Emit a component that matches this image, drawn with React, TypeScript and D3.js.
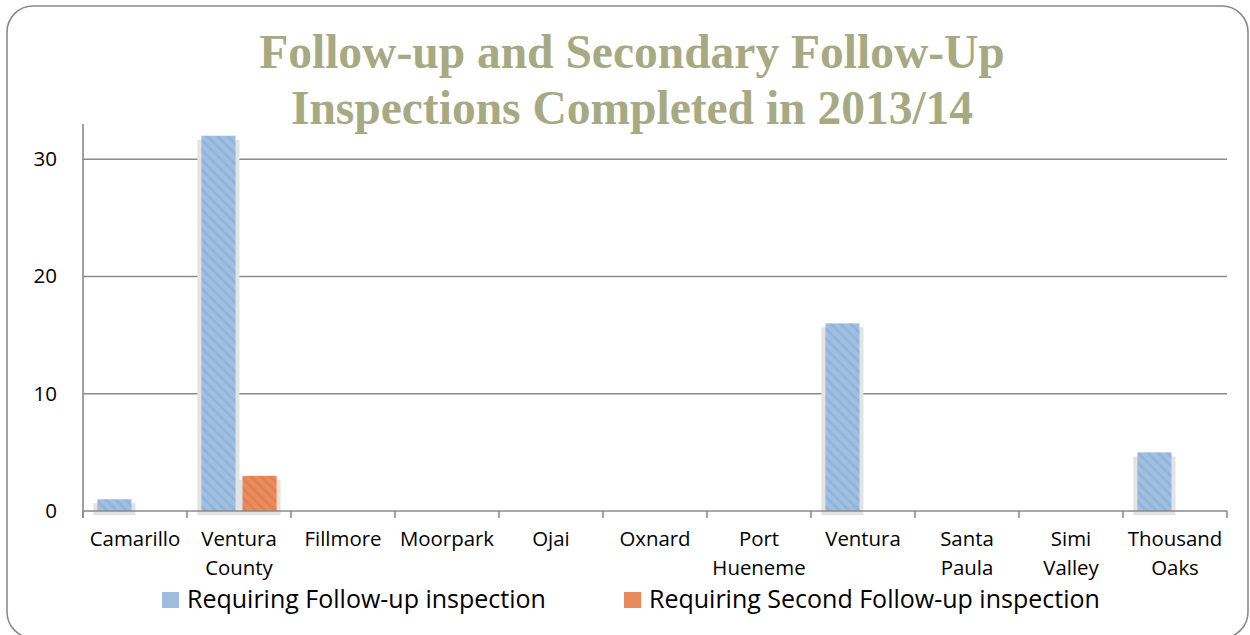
import React from "react";
import * as d3 from "d3";

const categories = [
  ["Camarillo"],
  ["Ventura", "County"],
  ["Fillmore"],
  ["Moorpark"],
  ["Ojai"],
  ["Oxnard"],
  ["Port", "Hueneme"],
  ["Ventura"],
  ["Santa", "Paula"],
  ["Simi", "Valley"],
  ["Thousand", "Oaks"],
];
const followUp = [1, 32, 0, 0, 0, 0, 0, 16, 0, 0, 5];
const secondFollowUp = [0, 3, 0, 0, 0, 0, 0, 0, 0, 0, 0];
const seriesNames = ["Requiring Follow-up inspection", "Requiring Second Follow-up inspection"];
const yTicks = [0, 10, 20, 30];
const titleLines = ["Follow-up and Secondary Follow-Up", "Inspections Completed in 2013/14"];

const W = 1250;
const H = 635;
const left = 83;
const right = 1227;
const y0 = 511;
const yTop = 124;

export default function App() {
  const keys = categories.map((c) => c.join(" "));
  const x = d3.scaleBand<string>().domain(keys).range([left, right]).paddingInner(0).paddingOuter(0);
  const sub = d3
    .scaleBand<string>()
    .domain(["a", "b"])
    .range([0, x.bandwidth()])
    .paddingInner(0.17)
    .paddingOuter(0.35);
  const y = d3.scaleLinear().domain([0, 33]).range([y0, yTop]);
  const series = [
    { key: "a", values: followUp, fill: "url(#hatchBlue)", swatch: "#9dbcdf" },
    { key: "b", values: secondFollowUp, fill: "url(#hatchOrange)", swatch: "#e88a5b" },
  ];
  const font = "'Open Sans', 'Liberation Sans', sans-serif";
  const bw = sub.bandwidth();
  const boundaries = keys.map((k) => x(k) as number).concat([right]);

  return (
    <svg width={W} height={H} style={{ position: "absolute", left: 0, top: 0 }}>
      <defs>
        <pattern id="hatchBlue" patternUnits="userSpaceOnUse" width="7" height="7" patternTransform="rotate(-45)">
          <rect width="7" height="7" fill="#a0bfe1" />
          <rect width="3" height="7" fill="#93b4da" />
        </pattern>
        <pattern id="hatchOrange" patternUnits="userSpaceOnUse" width="7" height="7" patternTransform="rotate(-45)">
          <rect width="7" height="7" fill="#ea8c5d" />
          <rect width="3" height="7" fill="#e08252" />
        </pattern>
      </defs>
      <rect x={7} y={6} width={1241} height={632} rx={26} ry={26} fill="white" stroke="#8a8a8a" strokeWidth={1.6} />

      {titleLines.map((t, i) => (
        <text
          key={t}
          x={632}
          y={68 + i * 56}
          textAnchor="middle"
          fontFamily="'Liberation Serif', 'DejaVu Serif', serif"
          fontWeight="bold"
          fontSize={47.5}
          fill="#a6aa82"
        >
          {t}
        </text>
      ))}

      {/* gridlines */}
      {yTicks
        .filter((t) => t > 0)
        .map((t) => (
          <line key={t} x1={left} x2={right} y1={y(t)} y2={y(t)} stroke="#8a8a8a" strokeWidth={1.5} />
        ))}

      {/* bars with shadows */}
      {series.map((s) =>
        keys.map((k, i) => {
          const v = s.values[i];
          if (!v) return null;
          const bx = (x(k) as number) + (sub(s.key) as number);
          const by = y(v);
          return (
            <g key={s.key + k}>
              <rect x={bx - 4} y={by + 4} width={bw + 8} height={y0 - by} fill="#e3e3e3" />
              <rect x={bx} y={by} width={bw} height={y0 - by} fill={s.fill} />
            </g>
          );
        })
      )}

      {/* axes */}
      <line x1={left} x2={left} y1={yTop} y2={y0 + 7} stroke="#8a8a8a" strokeWidth={1.6} />
      <line x1={left} x2={right} y1={y0} y2={y0} stroke="#8a8a8a" strokeWidth={1.6} />
      {boundaries.map((bx, i) => (
        <line key={i} x1={bx} x2={bx} y1={y0} y2={y0 + 7} stroke="#8a8a8a" strokeWidth={1.6} />
      ))}

      {yTicks.map((t) => (
        <text key={t} x={57} y={y(t) + 7} textAnchor="end" fontFamily={font} fontSize={20.5} fill="#000">
          {t}
        </text>
      ))}

      {categories.map((c, i) => (
        <text
          key={keys[i]}
          x={(x(keys[i]) as number) + x.bandwidth() / 2}
          y={546}
          textAnchor="middle"
          fontFamily={font}
          fontSize={20.4}
          fill="#000"
        >
          {c.map((line, j) => (
            <tspan key={j} x={(x(keys[i]) as number) + x.bandwidth() / 2} dy={j === 0 ? 0 : 29}>
              {line}
            </tspan>
          ))}
        </text>
      ))}

      {/* legend */}
      {[
        { sx: 162, tx: 187 },
        { sx: 624, tx: 649 },
      ].map((p, i) => (
        <g key={i}>
          <rect x={p.sx} y={592} width={17} height={16} fill={series[i].swatch} />
          <text x={p.tx} y={608} fontFamily={font} fontSize={25} fill="#000">
            {seriesNames[i]}
          </text>
        </g>
      ))}
    </svg>
  );
}
